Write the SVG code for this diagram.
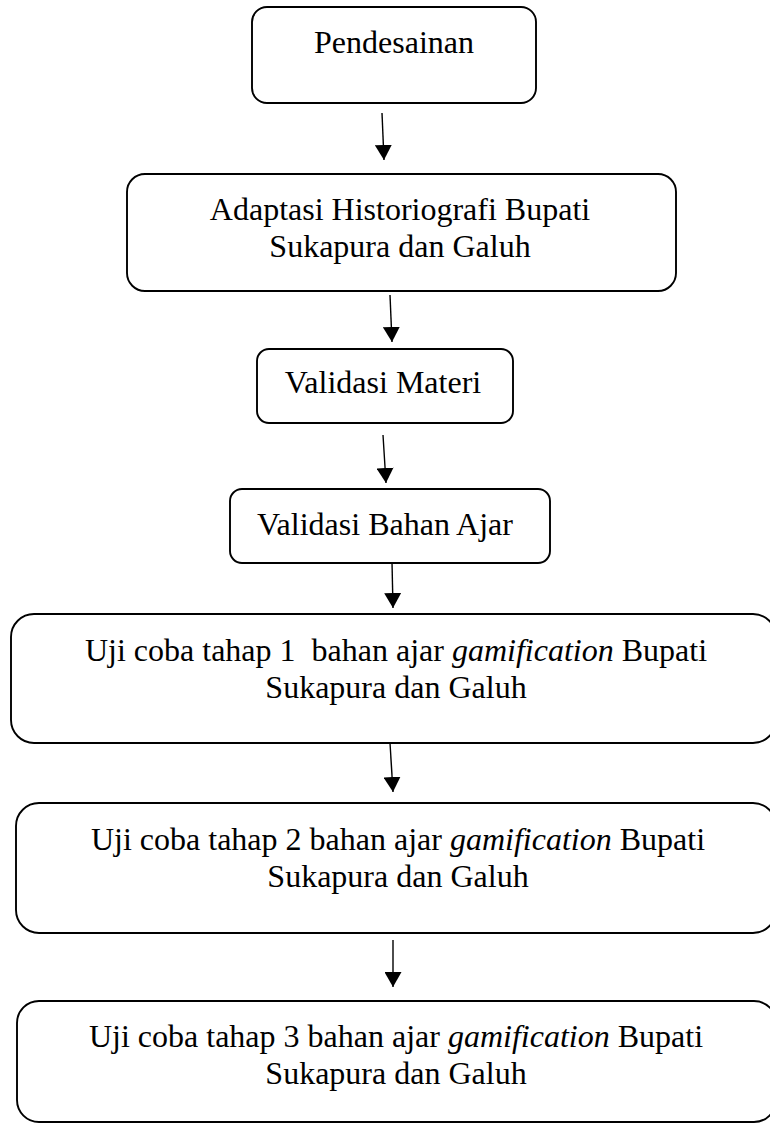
<svg xmlns="http://www.w3.org/2000/svg" width="770" height="1124" viewBox="0 0 770 1124">
<style>
.box{fill:#fff;stroke:#000;stroke-width:1.9}
.t{font-family:"Liberation Serif","Times New Roman",serif;font-size:32px;fill:#000;text-anchor:middle}
.i{font-style:italic}
.c{stroke:#000;stroke-width:1.4;fill:none}
</style>
<defs>
<marker id="ah" markerUnits="userSpaceOnUse" markerWidth="16" markerHeight="17" refX="15" refY="8.5" orient="auto">
<path d="M0,0 L15,8.5 L0,17 Z" fill="#000"/>
</marker>
</defs>
<rect width="770" height="1124" fill="#fff"/>
<g id="connectors">
<line class="c" x1="382" y1="113" x2="384" y2="160" marker-end="url(#ah)"/>
<line class="c" x1="390" y1="295" x2="392" y2="342" marker-end="url(#ah)"/>
<line class="c" x1="383" y1="435" x2="386" y2="483" marker-end="url(#ah)"/>
<line class="c" x1="392" y1="562" x2="393" y2="608" marker-end="url(#ah)"/>
<line class="c" x1="390" y1="743" x2="393" y2="792" marker-end="url(#ah)"/>
<line class="c" x1="393" y1="940" x2="393" y2="987" marker-end="url(#ah)"/>
</g>
<g id="n1">
<rect class="box" x="252" y="7" width="284" height="96" rx="15"/>
<text class="t" x="394" y="53">Pendesainan</text>
</g>
<g id="n2">
<rect class="box" x="127" y="174" width="549" height="117" rx="18"/>
<text class="t" x="400" y="220">Adaptasi Historiografi Bupati</text>
<text class="t" x="400" y="257">Sukapura dan Galuh</text>
</g>
<g id="n3">
<rect class="box" x="257" y="349" width="256" height="74" rx="12"/>
<text class="t" x="383" y="393">Validasi Materi</text>
</g>
<g id="n4">
<rect class="box" x="230" y="489" width="320" height="74" rx="12"/>
<text class="t" x="385" y="535">Validasi Bahan Ajar</text>
</g>
<g id="n5">
<rect class="box" x="11" y="614" width="765" height="129" rx="23"/>
<text class="t" x="396" y="661" xml:space="preserve">Uji coba tahap 1  bahan ajar <tspan class="i">gamification</tspan> Bupati</text>
<text class="t" x="396" y="698">Sukapura dan Galuh</text>
</g>
<g id="n6">
<rect class="box" x="16" y="803" width="760" height="130" rx="23"/>
<text class="t" x="398" y="850">Uji coba tahap 2 bahan ajar <tspan class="i">gamification</tspan> Bupati</text>
<text class="t" x="398" y="887">Sukapura dan Galuh</text>
</g>
<g id="n7">
<rect class="box" x="17" y="1001" width="759" height="121" rx="22"/>
<text class="t" x="396" y="1047">Uji coba tahap 3 bahan ajar <tspan class="i">gamification</tspan> Bupati</text>
<text class="t" x="396" y="1084">Sukapura dan Galuh</text>
</g>
</svg>
